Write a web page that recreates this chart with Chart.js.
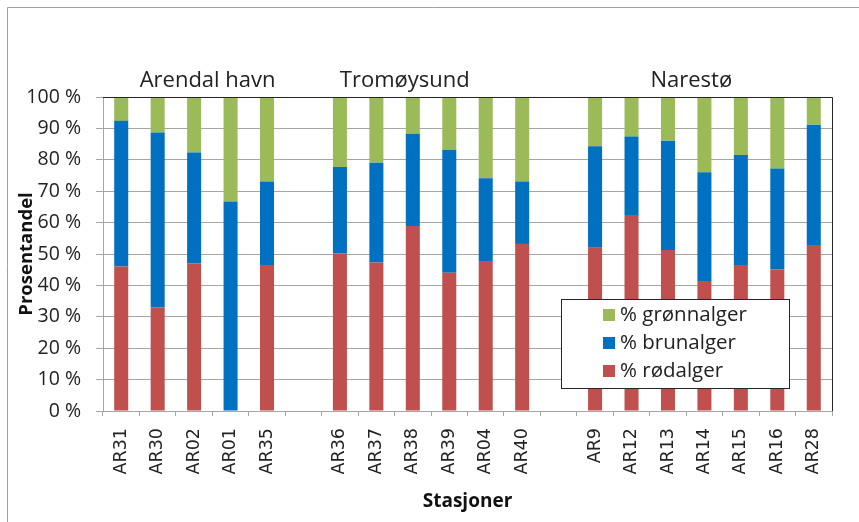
<!DOCTYPE html>
<html>
<head>
<meta charset="utf-8">
<title>Prosentandel alger per stasjon</title>
<script src="https://cdn.jsdelivr.net/npm/chart.js@4.4.1/dist/chart.umd.min.js"></script>
<style>
  html, body { margin: 0; padding: 0; background: #fff; }
  canvas { display: block; }
</style>
</head>
<body>
<canvas id="algeChart" width="859" height="522"></canvas>
<script>
// Stations (empty entries are the gaps between the three areas)
const stations = ['AR31', 'AR30', 'AR02', 'AR01', 'AR35', '',
  'AR36', 'AR37', 'AR38', 'AR39', 'AR04', 'AR40', '',
  'AR9', 'AR12', 'AR13', 'AR14', 'AR15', 'AR16', 'AR28'];

// Percent per group of algae
const rodalger = [46.0, 33.0, 47.0, 0, 46.5, null,
  50.2, 47.3, 58.9, 44.0, 47.8, 53.2, null,
  52.0, 62.4, 51.3, 41.4, 46.5, 45.1, 52.9];
const brunalger = [46.4, 55.7, 35.3, 66.7, 26.6, null,
  27.5, 31.8, 29.4, 39.2, 26.3, 19.9, null,
  32.3, 25.0, 34.8, 34.6, 35.0, 32.1, 38.3];
const gronnalger = [7.6, 11.3, 17.7, 33.3, 26.9, null,
  22.3, 20.9, 11.7, 16.8, 25.9, 26.9, null,
  15.7, 12.6, 13.9, 24.0, 18.5, 22.8, 8.8];

const seriesNames = ['% rødalger', '% brunalger', '% grønnalger'];
const areaNames = ['Arendal havn', 'Tromøysund', 'Narestø'];
const yTicks = [0, 10, 20, 30, 40, 50, 60, 70, 80, 90, 100];

const gridGrey = '#a6a6a6';

// Area titles above the plot, anchored on the category scale
const areaTitles = {
  id: 'areaTitles',
  afterDraw(chart, args, opts) {
    const ctx = chart.ctx;
    const x = chart.scales.x;
    ctx.save();
    ctx.font = '22px "Open Sans", sans-serif';
    ctx.fillStyle = '#222';
    ctx.textAlign = 'center';
    ctx.textBaseline = 'alphabetic';
    areaNames.forEach((name, i) => {
      ctx.fillText(name, x.getPixelForValue(opts.at[i]), opts.baseline);
    });
    ctx.restore();
  }
};

// Dark frame on top/right of plot plus the light outer frame
const frames = {
  id: 'frames',
  afterDatasetsDraw(chart) {
    const ctx = chart.ctx;
    const a = chart.chartArea;
    ctx.save();
    ctx.strokeStyle = '#262626';
    ctx.lineWidth = 1;
    ctx.beginPath();
    ctx.moveTo(a.left, Math.round(a.top) + 0.5);
    ctx.lineTo(Math.round(a.right) + 0.5, Math.round(a.top) + 0.5);
    ctx.lineTo(Math.round(a.right) + 0.5, a.bottom);
    ctx.stroke();
    ctx.strokeStyle = '#a0a0a0';
    ctx.beginPath();
    ctx.moveTo(7.5, chart.height);
    ctx.lineTo(7.5, 7.5);
    ctx.lineTo(chart.width, 7.5);
    ctx.stroke();
    ctx.restore();
  }
};

// Boxed legend sitting over the bars, top series first
const boxLegend = {
  id: 'boxLegend',
  afterDraw(chart, args, opts) {
    const ctx = chart.ctx;
    const b = opts.box;
    ctx.save();
    ctx.fillStyle = '#fff';
    ctx.fillRect(b.x, b.y, b.w, b.h);
    ctx.strokeStyle = '#262626';
    ctx.lineWidth = 1;
    ctx.strokeRect(b.x + 0.5, b.y + 0.5, b.w, b.h);
    ctx.font = '20.5px "Open Sans", sans-serif';
    ctx.textBaseline = 'middle';
    ctx.textAlign = 'left';
    const items = chart.data.datasets.slice().reverse();
    items.forEach((ds, i) => {
      const cy = b.y + 16 + i * 28;
      ctx.fillStyle = ds.backgroundColor;
      ctx.fillRect(b.x + 42, cy - 6, 12, 12);
      ctx.fillStyle = '#222';
      ctx.fillText(ds.label, b.x + 59, cy);
    });
    ctx.restore();
  }
};

const ctx = document.getElementById('algeChart').getContext('2d');

new Chart(ctx, {
  type: 'bar',
  data: {
    labels: stations,
    datasets: [{
      label: seriesNames[0],
      data: rodalger,
      backgroundColor: '#C0504D'
    }, {
      label: seriesNames[1],
      data: brunalger,
      backgroundColor: '#0070C0'
    }, {
      label: seriesNames[2],
      data: gronnalger,
      backgroundColor: '#9BBB59'
    }]
  },
  plugins: [areaTitles, frames, boxLegend],
  options: {
    responsive: false,
    animation: false,
    devicePixelRatio: 1,
    layout: { padding: { top: 97, right: 27, left: 0, bottom: 0 } },
    datasets: {
      bar: { categoryPercentage: 1, barPercentage: 0.385, borderWidth: 0 }
    },
    plugins: {
      legend: { display: false },
      tooltip: { enabled: false },
      areaTitles: { at: [2.37, 7.78, 15.64], baseline: 87 },
      boxLegend: { box: { x: 561, y: 299, w: 228, h: 89 } }
    },
    scales: {
      x: {
        stacked: true,
        afterFit(scale) { scale.height = 111; },
        grid: {
          drawOnChartArea: false,
          drawTicks: true,
          tickLength: 5,
          color: gridGrey
        },
        border: { color: gridGrey },
        ticks: {
          autoSkip: false,
          minRotation: 90,
          maxRotation: 90,
          padding: 12,
          color: '#222',
          font: { family: '"DejaVu Sans", sans-serif', size: 17.5 }
        },
        title: {
          display: true,
          text: 'Stasjoner',
          color: '#111',
          padding: { top: 0, bottom: 9 },
          font: { family: '"Open Sans", sans-serif', size: 19, weight: 'bold' }
        }
      },
      y: {
        stacked: true,
        min: 0,
        max: 100,
        afterFit(scale) { scale.width = 103; },
        afterBuildTicks(scale) { scale.ticks = yTicks.map(v => ({ value: v })); },
        grid: {
          color: gridGrey,
          tickLength: 7
        },
        border: { color: gridGrey },
        ticks: {
          padding: 15,
          color: '#222',
          font: { family: '"Open Sans", sans-serif', size: 19.5 },
          callback: v => v + ' %'
        },
        title: {
          display: true,
          text: 'Prosentandel',
          color: '#111',
          padding: { top: 16, bottom: 0 },
          font: { family: '"Open Sans", sans-serif', size: 18.5, weight: 'bold' }
        }
      }
    }
  }
});
</script>
</body>
</html>
